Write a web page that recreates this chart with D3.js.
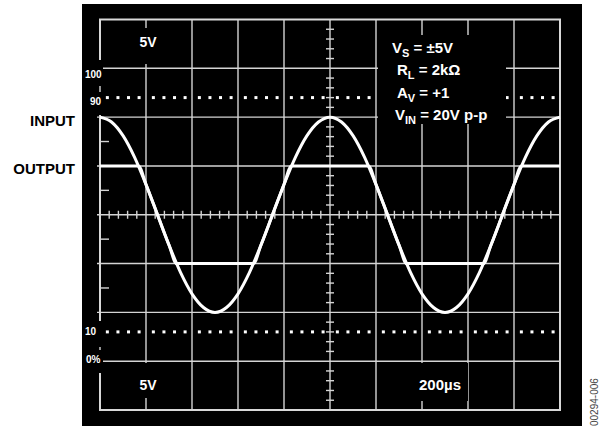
<!DOCTYPE html>
<html>
<head>
<meta charset="utf-8">
<script src="https://d3js.org/d3.v7.min.js"></script>
<style>
body { margin: 0; background: #fff; }
text { font-family: "Liberation Sans", Arial, Helvetica, sans-serif; font-weight: bold; }
.grid { stroke: #d4d4d4; stroke-width: 1.4; }
.border { fill: none; stroke: #d8d8d8; stroke-width: 2; }
.trace { fill: none; stroke: #fff; stroke-width: 3; stroke-linejoin: round; }
</style>
</head>
<body>
<script>

// scope screen: 10 x 200us horizontally, 8 x 5V vertically
var timeUs = [0, 50, 100, 150, 200, 250, 300, 350, 400, 450,
              500, 550, 600, 650, 700, 750, 800, 850, 900, 950,
              1000, 1050, 1100, 1150, 1200, 1250, 1300, 1350, 1400, 1450,
              1500, 1550, 1600, 1650, 1700, 1750, 1800, 1850, 1900, 1950, 2000];
var inputV = [10, 9.5, 8.1, 5.9, 3.1, 0, -3.1, -5.9, -8.1, -9.5,
              -10, -9.5, -8.1, -5.9, -3.1, 0, 3.1, 5.9, 8.1, 9.5,
              10, 9.5, 8.1, 5.9, 3.1, 0, -3.1, -5.9, -8.1, -9.5,
              -10, -9.5, -8.1, -5.9, -3.1, 0, 3.1, 5.9, 8.1, 9.5, 10];

var outTimeUs = [0, 167, 200, 250, 300, 333, 667, 700, 750, 800, 833,
                 1167, 1200, 1250, 1300, 1333, 1667, 1700, 1750, 1800, 1833, 2000];
var outputV = [5, 5, 3.1, 0, -3.1, -5, -5, -3.1, 0, 3.1, 5,
               5, 3.1, 0, -3.1, -5, -5, -3.1, 0, 3.1, 5, 5];

var refLevels = [90, 10];            // dotted rise-time lines, percent
var pctText = ["100", "90", "10", "0%"];
var midTicksV = [7.5, 2.5, -2.5, -7.5];

var width = 600, height = 430;

var svg = d3.select('body').append('svg')
  .attr('width', width)
  .attr('height', height);

var x = d3.scaleLinear().domain([0, 2000]).range([100, 560]);
var y = d3.scaleLinear().domain([-20, 20]).range([410, 19.5]);
var pct = d3.scaleLinear().domain([0, 100]).range([y(-15), y(15)]);

// black screen
svg.append('rect')
  .attr('x', 82).attr('y', 4)
  .attr('width', 500).attr('height', 422)
  .attr('fill', '#000');

var g = svg.append('g');

// grid
g.selectAll('line.vgrid')
  .data(d3.range(200, 2000, 200))
  .enter().append('line')
  .attr('class', 'grid')
  .attr('x1', d => x(d)).attr('x2', d => x(d))
  .attr('y1', y(20)).attr('y2', y(-20));

g.selectAll('line.hgrid')
  .data(d3.range(-15, 20, 5))
  .enter().append('line')
  .attr('class', 'grid')
  .attr('x1', x(0) - 3).attr('x2', x(2000))
  .attr('y1', d => y(d)).attr('y2', d => y(d));

// minor ticks on centre axes
g.selectAll('line.xminor')
  .data(d3.range(0, 2000, 40).filter(d => d % 200 !== 0))
  .enter().append('line')
  .attr('class', 'grid')
  .attr('x1', d => x(d)).attr('x2', d => x(d))
  .attr('y1', y(0) - 4).attr('y2', y(0) + 4);

g.selectAll('line.yminor')
  .data(d3.range(-19, 20, 1).filter(d => d % 5 !== 0))
  .enter().append('line')
  .attr('class', 'grid')
  .attr('x1', x(1000) - 4).attr('x2', x(1000) + 4)
  .attr('y1', d => y(d)).attr('y2', d => y(d));

// half-division ticks on the left edge
g.selectAll('line.mid')
  .data(midTicksV)
  .enter().append('line')
  .attr('class', 'grid')
  .attr('x1', x(0)).attr('x2', x(0) + 9)
  .attr('y1', d => y(d)).attr('y2', d => y(d));

g.append('rect')
  .attr('class', 'border')
  .attr('x', x(0)).attr('y', y(20))
  .attr('width', x(2000) - x(0)).attr('height', y(-20) - y(20));

// dotted 90% / 10% lines, four dots per division
var dotPos = [];
d3.range(0, 2000, 200).forEach(function(d) {
  [0.16, 0.39, 0.62, 0.85].forEach(function(f) { dotPos.push(d + f * 200); });
});
refLevels.forEach(function(p) {
  g.selectAll(null)
    .data(dotPos)
    .enter().append('rect')
    .attr('x', d => x(d) - 1.5)
    .attr('y', pct(p) - 1.5)
    .attr('width', 3).attr('height', 3)
    .attr('fill', '#fff');
});

// knock-outs behind the screen labels
var knock = [
  [84, 60, 19, 55], [84, 321, 19, 52],
  [136, 28, 25, 36], [136, 363, 25, 35],
  [414, 363, 54, 38], [378, 35, 128, 89]
];
g.selectAll('rect.knock')
  .data(knock)
  .enter().append('rect')
  .attr('x', d => d[0]).attr('y', d => d[1])
  .attr('width', d => d[2]).attr('height', d => d[3])
  .attr('fill', '#000');

// small leftovers of the left edge inside the gaps
g.append('line').attr('class', 'grid')
  .attr('x1', x(0)).attr('x2', x(0)).attr('y1', 86).attr('y2', 92);
g.append('line').attr('class', 'grid')
  .attr('x1', x(0)).attr('x2', x(0)).attr('y1', 347).attr('y2', 350);

// percent labels
var pctX = [85, 90, 85, 86], pctY = [78, 105, 335, 363];
g.selectAll('text.pct')
  .data(pctText)
  .enter().append('text')
  .attr('x', (d, i) => pctX[i])
  .attr('y', (d, i) => pctY[i])
  .attr('fill', '#fff')
  .style('font-size', '10px')
  .text(d => d);

function label(tx, ty, s, size) {
  return g.append('text').attr('x', tx).attr('y', ty)
    .attr('fill', '#fff').attr('text-anchor', 'middle')
    .style('font-size', size + 'px').text(s);
}
label(148, 47, '5V', 14);
label(148, 390, '5V', 14);
label(440, 390, '200\u00b5s', 15);

// settings block
var settings = [
  ['V', 'S', ' = \u00b15V', 392, 53],
  ['R', 'L', ' = 2k\u03a9', 397, 75],
  ['A', 'V', ' = +1', 397, 98],
  ['V', 'IN', ' = 20V p-p', 395, 120]
];
settings.forEach(function(s) {
  var t = g.append('text').attr('x', s[3]).attr('y', s[4])
    .attr('fill', '#fff').style('font-size', '15px');
  t.append('tspan').text(s[0]);
  t.append('tspan').attr('dy', 4).style('font-size', '11px').text(s[1]);
  t.append('tspan').attr('dy', -4).text(s[2]);
});

// traces
var line = d3.line().curve(d3.curveMonotoneX);
g.append('path')
  .attr('class', 'trace')
  .attr('d', line(timeUs.map((t, i) => [x(t), y(inputV[i])])));
g.append('path')
  .attr('class', 'trace')
  .attr('d', line(outTimeUs.map((t, i) => [x(t), y(outputV[i])])));

// outside labels
svg.append('text').attr('x', 75).attr('y', 126)
  .attr('text-anchor', 'end').style('font-size', '15px').text('INPUT');
svg.append('text').attr('x', 75).attr('y', 174)
  .attr('text-anchor', 'end').style('font-size', '15px').text('OUTPUT');

svg.append('text')
  .attr('transform', 'translate(598,426) rotate(-90)')
  .attr('fill', '#444')
  .style('font-size', '10px').style('font-weight', 'normal')
  .text('00294-006');

</script>
</body>
</html>
